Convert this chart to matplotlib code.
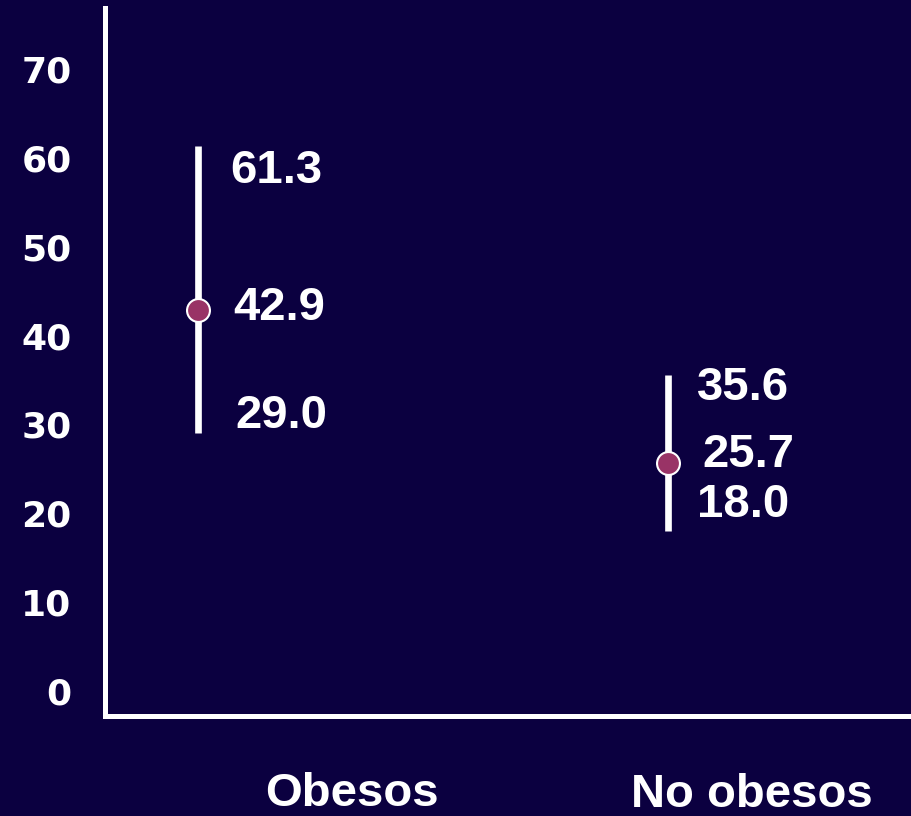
import matplotlib
matplotlib.use("Agg")
from matplotlib import pyplot as plt
from matplotlib import transforms

BG = '#0b0040'

groups = ['Obesos', 'No obesos']
centre = [42.9, 25.7]
low = [29.0, 18.0]
high = [61.3, 35.6]
yticks = [0, 10, 20, 30, 40, 50, 60, 70]

fig = plt.figure(figsize=(9.11, 8.16), dpi=100, facecolor=BG)
ax = fig.add_axes([105/911, 100/816, 806/911, 708/816])
ax.set_facecolor(BG)

x = list(range(len(groups)))

# intervals + point estimate
ax.vlines(x, low, high, color='white', lw=4.8, zorder=2)
ax.plot(x, centre, 'o', ms=16.5, mfc='#993366', mec='white', mew=1.5, zorder=3)

ax.set_xlim(-0.198, 1.517)
ax.set_ylim(-2.81, 76.86)

# value labels, offsets in points (hand placed like the slide)
offs = [
    [(23, -17.6), (25, 1.5), (26.6, 12.6)],
    [(21, -9.4), (25, 5.6), (21, 19)],
]
for i in x:
    for j, v in enumerate([high[i], centre[i], low[i]]):
        ax.annotate(f'{v:.1f}', xy=(i, v), xytext=offs[i][j], textcoords='offset points',
                    ha='left', va='center', color='white', fontsize=34,
                    fontweight='bold', family='Liberation Sans')

# category names below the axis
trans = transforms.blended_transform_factory(ax.transData, ax.transAxes)
cat_dx = [111, 60.5]
cat_dy = [-56, -57]
for i, name in enumerate(groups):
    ax.annotate(name, xy=(i, 0), xycoords=trans, xytext=(cat_dx[i], cat_dy[i]),
                textcoords='offset points', ha='center', va='center',
                color='white', fontsize=34, fontweight='bold',
                family='Liberation Sans', annotation_clip=False)

ax.set_xticks([])
ax.set_yticks(yticks)
ax.set_yticklabels([str(t) for t in yticks], fontsize=26, fontweight='bold',
                   family='DejaVu Sans', color='white')
ax.tick_params(axis='y', length=0, pad=24)

for s in ['top', 'right']:
    ax.spines[s].set_visible(False)
for s in ['left', 'bottom']:
    ax.spines[s].set_color('white')
    ax.spines[s].set_linewidth(3.6)

fig.savefig('out.png', dpi=100, facecolor=BG)
